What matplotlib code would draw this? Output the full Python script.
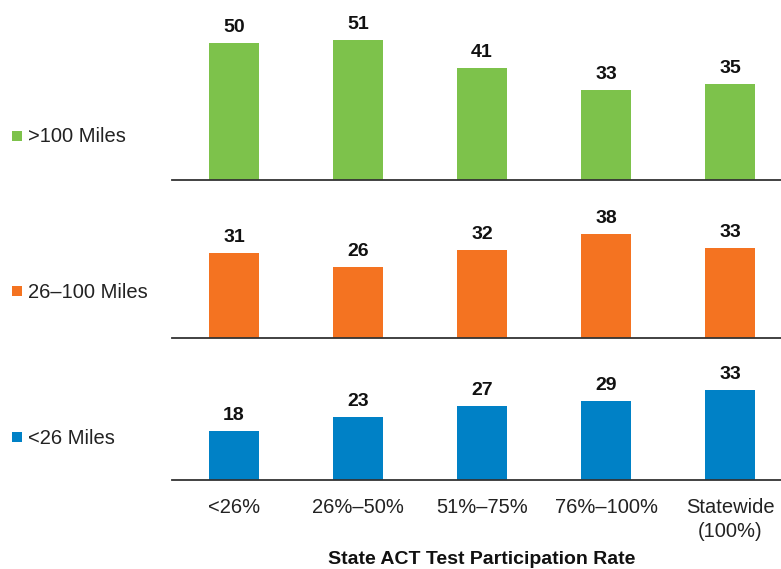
import matplotlib
matplotlib.use("Agg")
import matplotlib.pyplot as plt
from matplotlib.patches import Rectangle

plt.rcParams['font.family'] = ['Liberation Sans', 'DejaVu Sans']

categories = ["<26%", "26%\u201350%", "51%\u201375%", "76%\u2013100%", "Statewide\n(100%)"]
series_names = [">100 Miles", "26\u2013100 Miles", "<26 Miles"]
over_100 = [50, 51, 41, 33, 35]
miles_26_100 = [31, 26, 32, 38, 33]
under_26 = [18, 23, 27, 29, 33]
colors = ["#7DC24B", "#F47321", "#0081C6"]
xlabel = "State ACT Test Participation Rate"

W, H = 781, 569
fig = plt.figure(figsize=(W/100, H/100), dpi=100)

px_per_unit = 2.74
x0, x1 = 172, 781
# (baseline_y, top_y, legend_y) in pixels from top
panels = [(180, 0, 136), (338, 196, 291), (480, 350, 437)]
data = [over_100, miles_26_100, under_26]
xs = list(range(len(categories)))

for k, ((base, top, ly), vals, col, name) in enumerate(zip(panels, data, colors, series_names)):
    ax = fig.add_axes([x0/W, (H-base)/H, (x1-x0)/W, (base-top)/H])
    ax.bar(xs, vals, width=0.40, color=col)
    ax.set_xlim(-0.5, 4.41)
    ax.set_ylim(0, (base-top)/px_per_unit)
    for s in ['top', 'right', 'left']:
        ax.spines[s].set_visible(False)
    ax.spines['bottom'].set_color('#333333')
    ax.spines['bottom'].set_linewidth(1.3)
    ax.set_yticks([])
    ax.tick_params(axis='x', length=0)
    for x, v in zip(xs, vals):
        ax.annotate(str(v), (x, v), xytext=(0, 5), textcoords='offset points',
                    ha='center', va='bottom', fontsize=14, fontweight='bold', color='#111111')
    if k == 2:
        ax.set_xticks(xs)
        ax.set_xticklabels(categories, fontsize=14.5, color='#222222', linespacing=1.3, va='top')
        ax.tick_params(axis='x', pad=13)
    else:
        ax.set_xticks([])
    # legend marker + label
    fig.add_artist(Rectangle((12/W, 1-(ly+5)/H), 10/W, 10/H, transform=fig.transFigure,
                             color=col, lw=0))
    fig.text(28/W, 1-(ly+1)/H, name, color='#222222', fontsize=14.5, va='center', ha='left')

fig.text(482/W, 1-559/H, xlabel, fontsize=14, fontweight='bold', ha='center', va='center', color='#111111')

fig.savefig("out.png", dpi=100)
